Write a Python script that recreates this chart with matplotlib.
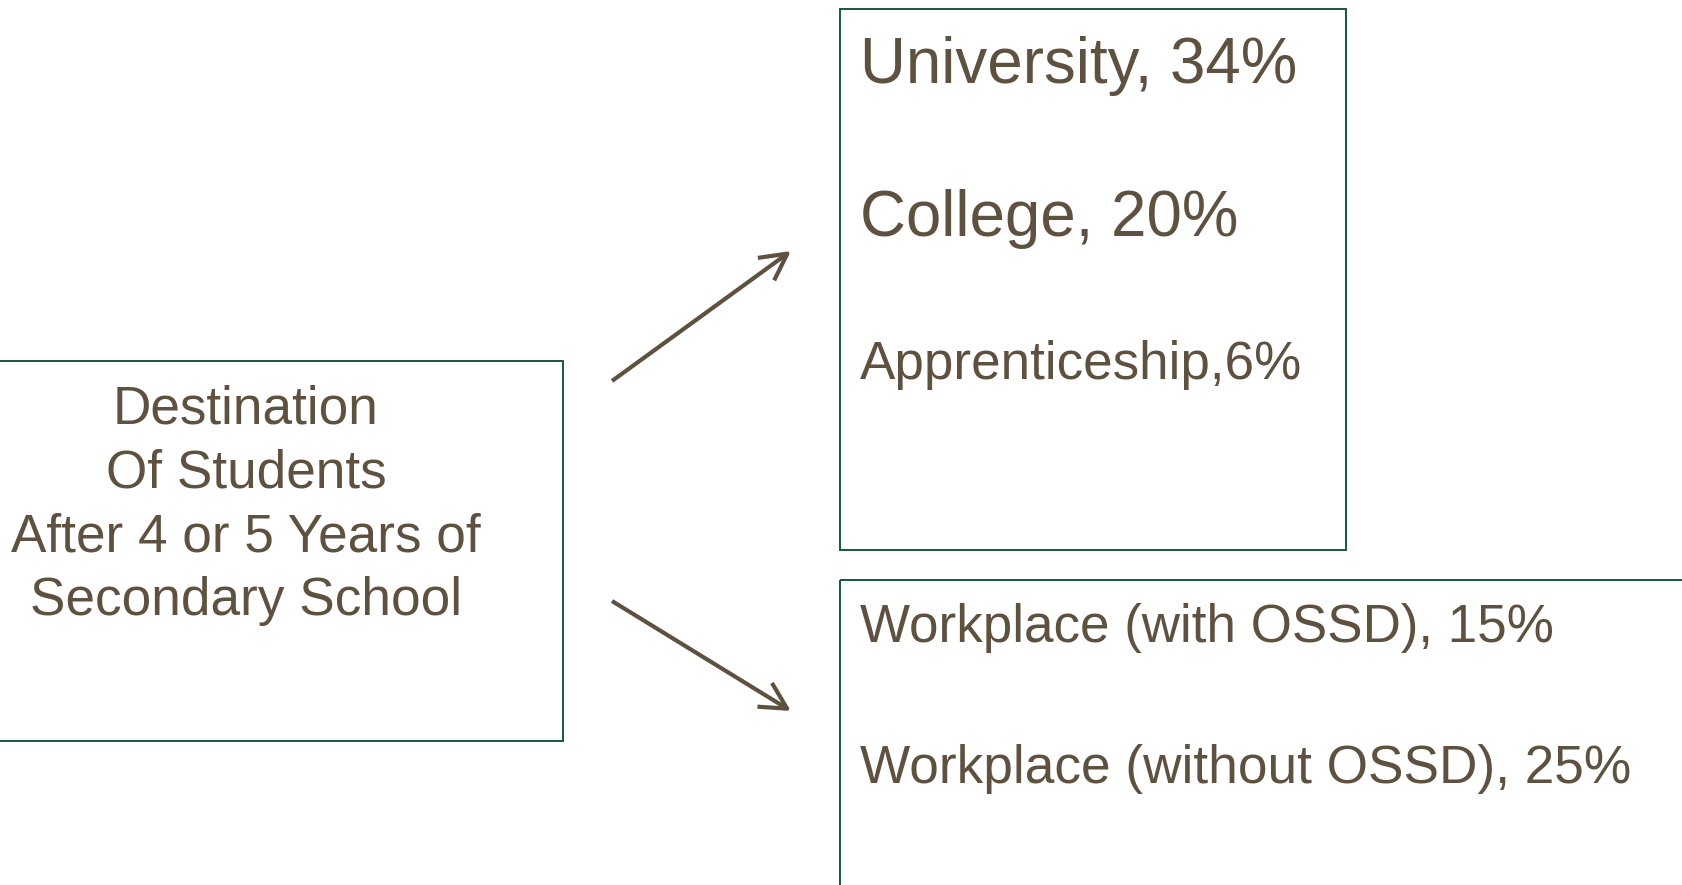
import matplotlib
matplotlib.use("Agg")
import matplotlib.pyplot as plt
from matplotlib import font_manager
from matplotlib.patches import Rectangle, FancyArrowPatch

# ---- data ----
title_lines = ["Destination", "Of Students", "After 4 or 5 Years of", "Secondary School"]
upper_labels = ["University", "College", "Apprenticeship"]
upper_values = [34, 20, 6]
upper_seps = [", ", ", ", ","]
lower_labels = ["Workplace (with OSSD)", "Workplace (without OSSD)"]
lower_values = [15, 25]

TEXT_C = "#5E5140"
EDGE_C = "#17583A"

W, H = 1683, 885
fig = plt.figure(figsize=(W / 100, H / 100), dpi=100)
ax = fig.add_axes([0, 0, 1, 1])
ax.set_xlim(0, W)
ax.set_ylim(H, 0)
ax.axis("off")

names = {f.name for f in font_manager.fontManager.ttflist}
base_font = "Liberation Sans" if "Liberation Sans" in names else "DejaVu Sans"
narrow_font = "Liberation Sans Narrow" if "Liberation Sans Narrow" in names else base_font

fig.canvas.draw()
renderer = fig.canvas.get_renderer()


def fit_text(x, y, s, target_w, family, ha="left"):
    t = ax.text(x, y, s, fontsize=40, family=family, color=TEXT_C,
                ha=ha, va="baseline")
    w = t.get_window_extent(renderer=renderer).width
    t.set_fontsize(40 * target_w / w)
    return t


# boxes
ax.add_patch(Rectangle((-5, 361), 568, 380, fill=False, ec=EDGE_C, lw=1.4))
ax.add_patch(Rectangle((840, 9), 506, 541, fill=False, ec=EDGE_C, lw=1.4))
ax.add_patch(Rectangle((840, 580), 900, 400, fill=False, ec=EDGE_C, lw=1.4))

# left title
title_base = [424, 487, 552, 615]
t = fit_text(246, title_base[2], title_lines[2], 469, base_font, ha="center")
size_ref = t.get_fontsize()
for i, (s, yb) in enumerate(zip(title_lines, title_base)):
    if i != 2:
        ax.text(246, yb, s, fontsize=size_ref, family=base_font, color=TEXT_C,
                ha="center", va="baseline")

# upper box entries
upper_base = [83, 236, 379]
upper_w = [437, 378, 442]
for lab, v, sep, yb, tw in zip(upper_labels, upper_values, upper_seps, upper_base, upper_w):
    fit_text(860, yb, f"{lab}{sep}{v}%", tw, base_font)

# lower box entries
lower_base = [642, 783]
lower_w = [694, 770]
for lab, v, yb, tw in zip(lower_labels, lower_values, lower_base, lower_w):
    fit_text(860, yb, f"{lab}, {v}%", tw, narrow_font)

# arrows
for (x0, y0), (x1, y1) in [((612, 381), (791, 251)), ((612, 601), (791, 711))]:
    ax.add_patch(FancyArrowPatch((x0, y0), (x1, y1), arrowstyle="->,head_length=0.95,head_width=0.5",
                                 mutation_scale=20, color=TEXT_C, lw=3.0,
                                 shrinkA=0, shrinkB=0, capstyle="butt"))

fig.savefig("out.png", dpi=100, facecolor="white")
